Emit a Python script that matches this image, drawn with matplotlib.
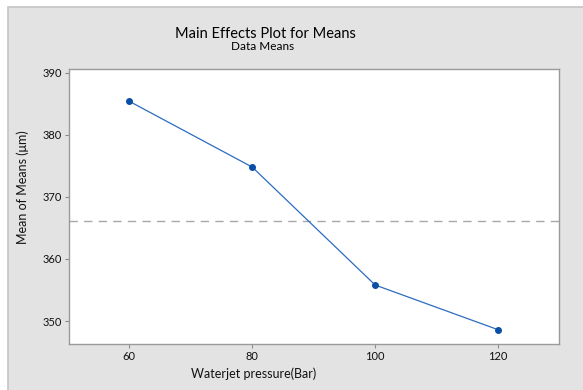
import matplotlib
matplotlib.use('Agg')
import matplotlib.pyplot as plt
from matplotlib.patches import Rectangle
import numpy as np

# Waterjet pressure levels and mean responses
pressure = [60, 80, 100, 120]
mean_of_means = [385.4, 374.8, 355.8, 348.6]
x_ticks = [60, 80, 100, 120]
y_ticks = [350, 360, 370, 380, 390]

plt.rcParams['font.family'] = ['Lato', 'DejaVu Sans']

fig = plt.figure(figsize=(5.83, 3.9), dpi=100)
fig.patch.set_facecolor('white')

# Grey panel behind the plot (cropped on right and bottom)
fig.patches.append(Rectangle((8 / 583, -0.05), 1.1, (390 - 7) / 390 + 0.05,
                             transform=fig.transFigure, facecolor='#e3e3e3',
                             edgecolor='#c4c4c4', linewidth=1.2, zorder=-1))

ax = fig.add_axes([69 / 583, 1 - 344 / 390, 490 / 583, 275 / 390])
ax.set_zorder(1)
ax.set_facecolor('white')

grand_mean = np.mean(mean_of_means)
ax.axhline(grand_mean, color='#a8a8a8', linewidth=1.0, dashes=(6, 4.5))
ax.plot(pressure, mean_of_means, color='#2c6cc0', linewidth=0.9,
        marker='o', markersize=4, markerfacecolor='#0a4fa6',
        markeredgecolor='#0a4fa6')

ax.set_xlim(50.2, 129.9)
ax.set_ylim(346.3, 390.6)
ax.set_xticks(x_ticks)
ax.set_yticks(y_ticks)
ax.tick_params(axis='both', labelsize=8, length=3, width=0.8,
               color='#8a8a8a', labelcolor='#111111', pad=2)
for s in ax.spines.values():
    s.set_color('#9a9a9a')
    s.set_linewidth(1.0)

ax.set_xlabel('Waterjet pressure(Bar)', fontsize=9, color='#111111')
ax.xaxis.set_label_coords(0.376, -0.085)
ax.set_ylabel('Mean of Means (μm)', fontsize=9, color='#111111')
ax.yaxis.set_label_coords(-0.082, 0.571)

fig.text(265 / 583, 1 - 34 / 390, 'Main Effects Plot for Means',
         ha='center', va='center', fontsize=10.5, color='#000000')
fig.text(263 / 583, 1 - 47 / 390, 'Data Means',
         ha='center', va='center', fontsize=8.5, color='#000000')

fig.savefig('out.png', dpi=100)
